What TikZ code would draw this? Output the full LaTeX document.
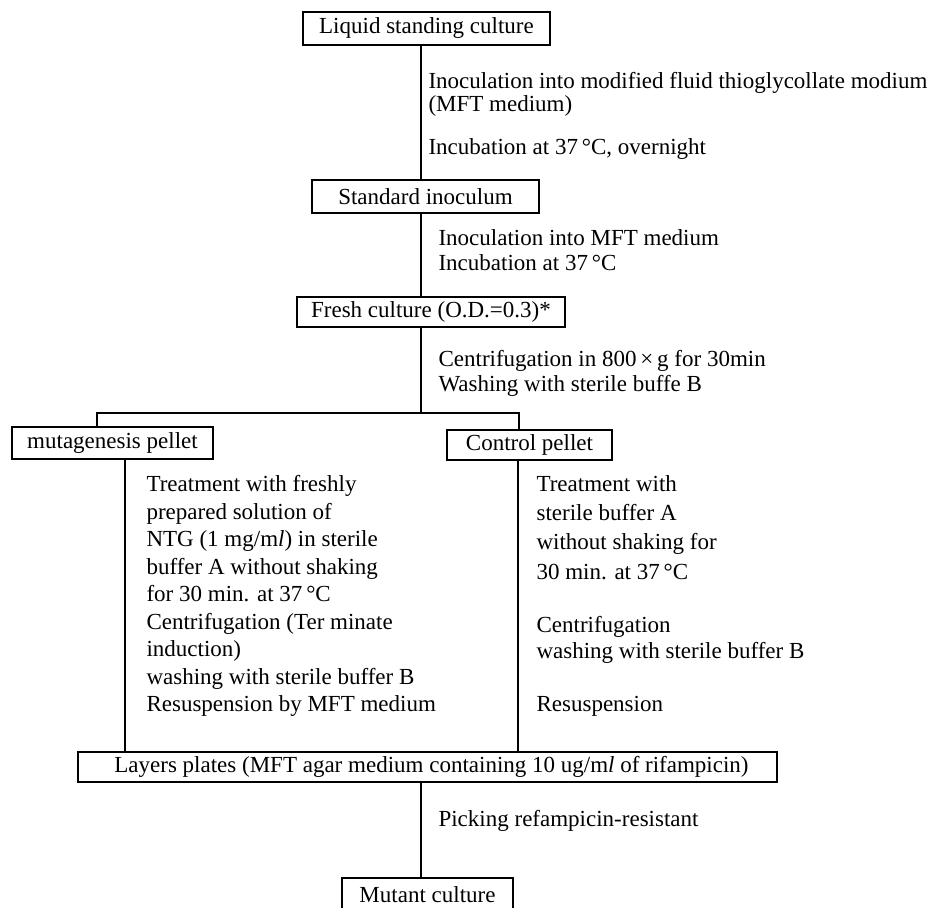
\documentclass[tikz,border=0pt]{standalone}
\usepackage{fontspec}
\setmainfont{Liberation Serif}
\begin{document}
\begin{tikzpicture}[x=1pt,y=-1pt,line width=1.1pt,
  box/.style={draw, inner sep=0pt, anchor=center, font=\fontsize{23}{24}\selectfont},
  lbl/.style={anchor=base west, inner sep=0pt, font=\fontsize{23}{24}\selectfont}]
\useasboundingbox (0,0) rectangle (946,908);
\fill[white] (0,0) rectangle (946,908);
% boxes
\node[box, minimum width=247pt, minimum height=33pt] (liq) at (426.5,28.5) {Liquid standing culture};
\node[box, minimum width=227pt, minimum height=33pt] (std) at (425.5,196.5) {Standard inoculum};
\node[box, minimum width=268pt, minimum height=30pt] (fresh) at (431,312) {Fresh culture (O.D.=0.3)*};
\node[box, minimum width=201pt, minimum height=32pt] (mut) at (112.5,443) {mutagenesis pellet};
\node[box, minimum width=165pt, minimum height=30pt] (ctl) at (529.5,445) {Control pellet};
\node[box, minimum width=699pt, minimum height=30pt] (lay) at (427.5,767) {\hspace*{8pt}Layers plates (MFT agar medium containing 10 ug/m\textit{l} of rifampicin)};
\node[box, minimum width=171pt, minimum height=34pt] (mc) at (427.5,895) {Mutant culture};
% helper coordinates
\coordinate (mx) at (421,0);
\coordinate (br) at (421,413);
\coordinate (bl) at (97,413);
\coordinate (brr) at (519,413);
\coordinate (lx) at (125,0);
\coordinate (rx) at (518,0);
% connectors
\draw (liq.south -| mx) -- (std.north -| mx);
\draw (std.south -| mx) -- (fresh.north -| mx);
\draw (fresh.south -| mx) -- (br);
\draw (mut.north -| bl) -- (bl) -- (brr) -- (ctl.north -| brr);
\draw (mut.south -| lx) -- (lay.north -| lx);
\draw (ctl.south -| rx) -- (lay.north -| rx);
\draw (lay.south -| mx) -- (mc.north -| mx);
% labels
\node[lbl] (t1) at (428,88) {Inoculation into modified fluid thioglycollate modium};
\node[lbl] (t2) at (428,111) {(MFT medium)};
\node[lbl] (t3) at (428,154) {Incubation at 37\,°C, overnight};
\node[lbl] (t4) at (438,245) {Inoculation into MFT medium};
\node[lbl] (t5) at (438,270) {Incubation at 37\,°C};
\node[lbl] (t6) at (438,366) {Centrifugation in 800\,×\,g for 30min};
\node[lbl] (t7) at (438,391) {Washing with sterile buffe B};
\node[lbl] (l1) at (146,491.5) {Treatment with freshly};
\node[lbl] (l2) at (146,519) {prepared solution of};
\node[lbl] (l3) at (146,546.5) {NTG (1 mg/m\textit{l}) in sterile};
\node[lbl] (l4) at (146,574) {buffer A without shaking};
\node[lbl] (l5) at (146,601.5) {for 30 min. at 37\,°C};
\node[lbl] (l6) at (146,629) {Centrifugation (Ter minate};
\node[lbl] (l7) at (146,656.5) {induction)};
\node[lbl] (l8) at (146,684) {washing with sterile buffer B};
\node[lbl] (l9) at (146,711.5) {Resuspension by MFT medium};
\node[lbl] (r1) at (536,491.5) {Treatment with};
\node[lbl] (r2) at (536,520.5) {sterile buffer A};
\node[lbl] (r3) at (536,549.5) {without shaking for};
\node[lbl] (r4) at (536,579.5) {30 min. at 37\,°C};
\node[lbl] (r5) at (536,632) {Centrifugation};
\node[lbl] (r6) at (536,658) {washing with sterile buffer B};
\node[lbl] (r7) at (536,711.5) {Resuspension};
\node[lbl] (p1) at (438,826) {Picking refampicin-resistant};
\end{tikzpicture}
\end{document}
